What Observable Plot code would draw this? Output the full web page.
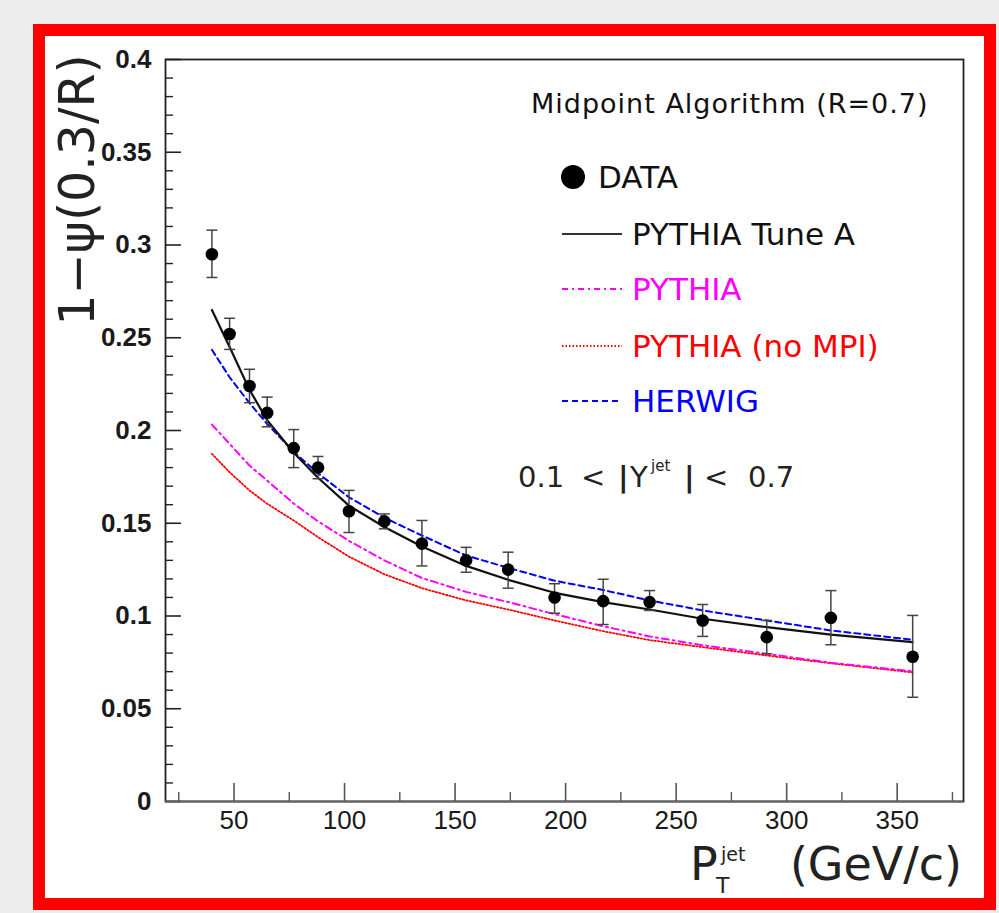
<!DOCTYPE html>
<html>
<head>
<meta charset="utf-8">
<script src="https://cdn.jsdelivr.net/npm/d3@7"></script>
<script src="https://cdn.jsdelivr.net/npm/@observablehq/plot@0.6"></script>
<style>
  html, body { margin: 0; padding: 0; background: #ececec; }
  #wrap { position: relative; width: 999px; height: 913px; overflow: hidden; background: #ececec; }
  #border { position: absolute; left: 33px; top: 24px; width: 963px; height: 886px; box-sizing: border-box;
            border: 12px solid #ff0000; background: #ffffff; }
  #chart { position: absolute; left: 0; top: 0; }
  #chart svg { display: block; }
  #overlay { position: absolute; left: 0; top: 0; pointer-events: none; }
</style>
</head>
<body>
<div id="wrap">
  <div id="border"></div>
  <div id="chart"></div>
  <svg id="overlay" width="999" height="913" xmlns="http://www.w3.org/2000/svg">
    <!-- y title -->
    <text transform="translate(94,190) rotate(-90)" text-anchor="middle" font-family="DejaVu Sans" font-size="49" fill="#222">1−ψ(0.3/R)</text>
    <!-- x title -->
    <g font-family="DejaVu Sans" fill="#222">
      <text x="690" y="880" font-size="46">P</text>
      <text x="716" y="893" font-size="22">T</text>
      <text x="721" y="861" font-size="19">jet</text>
      <text x="962" y="880" font-size="46" text-anchor="end">(GeV/c)</text>
    </g>
    <!-- header -->
    <text x="531" y="113" font-family="DejaVu Sans" font-size="27" letter-spacing="1" fill="#111">Midpoint Algorithm (R=0.7)</text>
    <!-- legend -->
    <g font-family="DejaVu Sans" font-size="31">
      <circle cx="573" cy="177" r="12" fill="#000"/>
      <text x="598" y="188" fill="#111">DATA</text>
      <line x1="562" x2="622" y1="234" y2="234" stroke="#333" stroke-width="2.2"/>
      <text x="632" y="245" fill="#111">PYTHIA Tune A</text>
      <line x1="562" x2="622" y1="289" y2="289" stroke="#ff00ff" stroke-width="2" stroke-dasharray="6,4,2,4"/>
      <text x="632" y="300" fill="#ff00ff">PYTHIA</text>
      <line x1="562" x2="622" y1="346" y2="346" stroke="#ff0000" stroke-width="1.8" stroke-dasharray="1.5,2"/>
      <text x="632" y="357" fill="#ff0000">PYTHIA (no MPI)</text>
      <line x1="562" x2="622" y1="401" y2="401" stroke="#0000ff" stroke-width="2" stroke-dasharray="6,4"/>
      <text x="632" y="412" fill="#0000ff">HERWIG</text>
    </g>
    <!-- rapidity range -->
    <g font-family="DejaVu Sans" font-size="29" fill="#222">
      <text x="518" y="487">0.1</text>
      <text x="581" y="487">&lt;</text>
      <text x="618" y="487" font-weight="bold">|</text>
      <text x="630" y="487">Y</text>
      <text x="651" y="471" font-size="15">jet</text>
      <text x="684" y="487" font-weight="bold">|</text>
      <text x="704" y="487">&lt;</text>
      <text x="748" y="487">0.7</text>
    </g>
  </svg>
</div>
<script>
// ---- data ----
const ptJet   = [40, 48, 57, 65, 77, 88, 102, 118, 135, 155, 174, 195, 217, 238, 262, 291, 320, 357];
const dataVal = [0.295, 0.252, 0.224, 0.2095, 0.1905, 0.180, 0.1565, 0.151, 0.139, 0.130, 0.125, 0.110, 0.108, 0.1075, 0.0976, 0.0886, 0.099, 0.078];
const errLow  = [0.2825, 0.2437, 0.215, 0.202, 0.180, 0.174, 0.145, 0.147, 0.127, 0.1236, 0.115, 0.1015, 0.0954, 0.103, 0.089, 0.0796, 0.0845, 0.0562];
const errHigh = [0.308, 0.2605, 0.233, 0.218, 0.2005, 0.186, 0.1677, 0.155, 0.1515, 0.137, 0.1344, 0.1174, 0.1198, 0.1137, 0.1062, 0.0976, 0.1137, 0.1003];

const pythiaTuneA = [0.265, 0.245, 0.222, 0.2055, 0.188, 0.1745, 0.1595, 0.148, 0.1375, 0.127, 0.1195, 0.1125, 0.1075, 0.1035, 0.0985, 0.094, 0.090, 0.0859];
const pythia      = [0.2032, 0.1928, 0.1811, 0.173, 0.1606, 0.151, 0.1405, 0.130, 0.1205, 0.113, 0.1075, 0.101, 0.0945, 0.089, 0.0842, 0.0796, 0.0748, 0.0702];
const pythiaNoMPI = [0.1874, 0.1775, 0.1677, 0.1605, 0.1515, 0.1425, 0.132, 0.1225, 0.115, 0.1084, 0.1035, 0.0976, 0.0918, 0.087, 0.0832, 0.0787, 0.0745, 0.0696];
const herwig      = [0.2435, 0.2287, 0.2148, 0.2035, 0.1885, 0.177, 0.164, 0.153, 0.1434, 0.1326, 0.126, 0.119, 0.114, 0.1084, 0.103, 0.0976, 0.0922, 0.0872];

const xTickValues = [50, 100, 150, 200, 250, 300, 350];
const xTickLabels = ["50", "100", "150", "200", "250", "300", "350"];
const xMinorTicks = [25, 75, 125, 175, 225, 275, 325, 375];
const yTickValues = [0, 0.05, 0.1, 0.15, 0.2, 0.25, 0.3, 0.35, 0.4];
const yTickLabels = ["0", "0.05", "0.1", "0.15", "0.2", "0.25", "0.3", "0.35", "0.4"];
const yMinorTicks = d3.range(1, 40).map(i => i / 100).filter(v => Math.round(v * 100) % 5 !== 0);

const xDomain = [19, 380];
const yDomain = [0, 0.4];

// ---- tables ----
const points = ptJet.map((x, i) => ({x, y: dataVal[i], lo: errLow[i], hi: errHigh[i]}));
const series = (vals) => ptJet.map((x, i) => ({x, y: vals[i]}));

const capSymbol = {
  draw(ctx, size) {
    const w = Math.sqrt(size / Math.PI);
    ctx.moveTo(-w, 0);
    ctx.lineTo(w, 0);
  }
};

const chart = Plot.plot({
  width: 999,
  height: 913,
  marginLeft: 165,
  marginRight: 36,
  marginTop: 59,
  marginBottom: 112,
  style: {background: "transparent", color: "#111", fontFamily: "Liberation Sans, Arial, sans-serif", overflow: "visible"},
  x: {type: "linear", domain: xDomain, axis: null, label: null},
  y: {type: "linear", domain: yDomain, axis: null, label: null},
  marks: [
    // axes ticks (inward, ROOT style)
    Plot.axisX(xMinorTicks, {anchor: "bottom", label: null, tickSize: -9, tickFormat: () => "", stroke: "#555", strokeWidth: 1.4}),
    Plot.axisX(xTickValues, {anchor: "bottom", label: null, tickSize: -18, tickFormat: () => "", stroke: "#555", strokeWidth: 1.6}),
    Plot.axisX(xTickValues, {anchor: "bottom", label: null, tickSize: 0, tickPadding: 9,
      tickFormat: d => xTickLabels[xTickValues.indexOf(d)], fontSize: 26, fill: "#1a1a1a"}),
    Plot.axisY(yMinorTicks, {anchor: "left", label: null, tickSize: -8, tickFormat: () => "", stroke: "#222", strokeWidth: 1.4}),
    Plot.axisY(yTickValues, {anchor: "left", label: null, tickSize: -16, tickFormat: () => "", stroke: "#222", strokeWidth: 1.6}),
    Plot.axisY(yTickValues, {anchor: "left", label: null, tickSize: 0, tickPadding: 14,
      tickFormat: d => yTickLabels[yTickValues.indexOf(d)], fontSize: 26, fontWeight: "bold", fill: "#1a1a1a"}),
    Plot.frame({stroke: "#222", strokeWidth: 1.8}),
    Plot.ruleY([0], {stroke: "#666", strokeWidth: 1.8}),

    // model curves
    Plot.line(series(pythiaNoMPI), {x: "x", y: "y", stroke: "#ff0000", strokeWidth: 1.8, strokeDasharray: "1.5,2"}),
    Plot.line(series(pythia), {x: "x", y: "y", stroke: "#ff00ff", strokeWidth: 2, strokeDasharray: "7,4,2,4"}),
    Plot.line(series(herwig), {x: "x", y: "y", stroke: "#0000ff", strokeWidth: 2, strokeDasharray: "6,4"}),
    Plot.line(series(pythiaTuneA), {x: "x", y: "y", stroke: "#111", strokeWidth: 2.2}),

    // data with error bars
    Plot.ruleX(points, {x: "x", y1: "lo", y2: "hi", stroke: "#444", strokeWidth: 1.5}),
    Plot.dot(points, {x: "x", y: "lo", r: 5.5, symbol: capSymbol, stroke: "#444", strokeWidth: 1.5, fill: "none"}),
    Plot.dot(points, {x: "x", y: "hi", r: 5.5, symbol: capSymbol, stroke: "#444", strokeWidth: 1.5, fill: "none"}),
    Plot.dot(points, {x: "x", y: "y", r: 6.3, fill: "#000", stroke: "none"})
  ]
});
document.getElementById("chart").appendChild(chart);
</script>
</body>
</html>
